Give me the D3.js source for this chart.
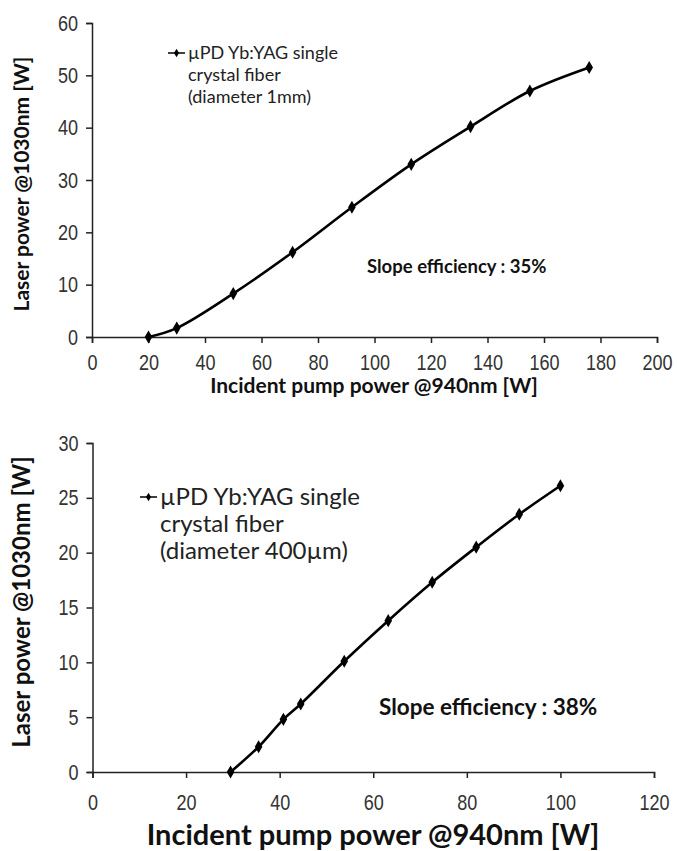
<!DOCTYPE html>
<html>
<head>
<meta charset="utf-8">
<script src="https://cdn.jsdelivr.net/npm/d3@7"></script>
<style>
  body { margin: 0; background: #fff; }
  .tick text { font-family: "Liberation Sans", Arial, sans-serif; fill: #333; }
  .title { font-family: Lato, "Open Sans", sans-serif; font-weight: bold; fill: #111; }
  .legend { font-family: Lato, "Open Sans", sans-serif; fill: #222; }
</style>
</head>
<body>
<div id="chart"></div>
<script>
// Top panel: 1 mm crystal fiber
const pumpTop = [20, 30, 50, 71, 92, 113, 134, 155, 176];
const laserTop = [0, 1.7, 8.3, 16.2, 24.8, 33.0, 40.2, 47.0, 51.5];
const xTicksTop = [0, 20, 40, 60, 80, 100, 120, 140, 160, 180, 200];
const yTicksTop = [0, 10, 20, 30, 40, 50, 60];

// Bottom panel: 400 µm crystal fiber
const pumpBottom = [29.5, 35.5, 40.8, 44.5, 53.8, 63.2, 72.6, 82, 91.2, 100];
const laserBottom = [0, 2.3, 4.8, 6.2, 10.1, 13.8, 17.3, 20.5, 23.5, 26.1];
const xTicksBottom = [0, 20, 40, 60, 80, 100, 120];
const yTicksBottom = [0, 5, 10, 15, 20, 25, 30];

const width = 677, height = 851;
const narrow = 0.82; // squeeze tick labels to look like a narrow face

const svg = d3.select("#chart").append("svg")
    .attr("width", width)
    .attr("height", height);

function drawPanel(opts) {
    const x = d3.scaleLinear().domain(opts.xDomain).range(opts.xRange);
    const y = d3.scaleLinear().domain(opts.yDomain).range(opts.yRange);
    const g = svg.append("g");

    // axes
    g.append("g")
        .attr("transform", `translate(0,${opts.yRange[0]})`)
        .call(d3.axisBottom(x).tickValues(opts.xTicks).tickSize(6).tickPadding(opts.xPad))
        .call(a => a.selectAll("text")
            .style("font-size", opts.tickFont + "px")
            .attr("transform", `scale(${narrow},1)`));
    g.append("g")
        .attr("transform", `translate(${opts.xRange[0]},0)`)
        .call(d3.axisLeft(y).tickValues(opts.yTicks).tickSize(6))
        .call(a => a.selectAll("text")
            .style("font-size", opts.tickFont + "px")
            .attr("x", -14 / narrow)
            .attr("transform", `scale(${narrow},1)`));
    g.selectAll(".domain, .tick line").attr("stroke", "#222").attr("stroke-width", 1.5);

    // data line + markers
    const pts = opts.xs.map((v, i) => [v, opts.ys[i]]);
    const line = d3.line()
        .x(d => x(d[0]))
        .y(d => y(d[1]))
        .curve(d3.curveCatmullRom);
    g.append("path")
        .datum(pts)
        .attr("d", line)
        .attr("fill", "none")
        .attr("stroke", "#000")
        .attr("stroke-width", 2.6);
    g.selectAll(".pt")
        .data(pts)
        .enter().append("path")
        .attr("transform", d => `translate(${x(d[0])},${y(d[1])})`)
        .attr("d", d3.symbol(d3.symbolDiamond, 50))
        .attr("fill", "#000");

    // legend
    const lg = g.append("g").attr("transform", `translate(${opts.legend[0]},${opts.legend[1]})`);
    lg.append("line").attr("x1", 0).attr("x2", 17).attr("y1", 0).attr("y2", 0)
        .attr("stroke", "#000").attr("stroke-width", 1.5);
    lg.append("path").attr("transform", "translate(8.5,0)")
        .attr("d", d3.symbol(d3.symbolDiamond, 22)).attr("fill", "#000");
    opts.legendLines.forEach((t, i) => {
        lg.append("text")
            .attr("class", "legend")
            .attr("x", 20)
            .attr("y", i * opts.legendStep)
            .attr("dy", "0.35em")
            .style("font-size", opts.legendFont + "px")
            .text(t);
    });

    // slope annotation
    g.append("text")
        .attr("class", "title")
        .attr("x", opts.slope[0])
        .attr("y", opts.slope[1])
        .attr("dy", "0.35em")
        .style("font-size", opts.slopeFont + "px")
        .text(opts.slopeText);

    // axis titles
    g.append("text")
        .attr("class", "title")
        .attr("x", opts.xTitle[0])
        .attr("y", opts.xTitle[1])
        .attr("text-anchor", "middle")
        .attr("dy", "0.35em")
        .style("font-size", opts.xTitleFont + "px")
        .text("Incident pump power @940nm [W]");
    g.append("text")
        .attr("class", "title")
        .attr("transform", `translate(${opts.yTitle[0]},${opts.yTitle[1]}) rotate(-90)`)
        .attr("text-anchor", "middle")
        .attr("dy", "0.35em")
        .style("font-size", opts.yTitleFont + "px")
        .text("Laser power @1030nm [W]");
}

drawPanel({
    xs: pumpTop, ys: laserTop,
    xDomain: [0, 200], xRange: [92, 657],
    yDomain: [0, 60], yRange: [337, 23],
    xTicks: xTicksTop, yTicks: yTicksTop,
    tickFont: 22, xPad: 11,
    legend: [168, 53], legendStep: 22, legendFont: 18,
    legendLines: ["\u00b5PD Yb:YAG single", "crystal fiber", "(diameter 1mm)"],
    slope: [367, 267], slopeFont: 18.5, slopeText: "Slope efficiency : 35%",
    xTitle: [374, 386], xTitleFont: 21,
    yTitle: [22, 184], yTitleFont: 21
});

drawPanel({
    xs: pumpBottom, ys: laserBottom,
    xDomain: [0, 120], xRange: [92.5, 654],
    yDomain: [0, 30], yRange: [772, 443],
    xTicks: xTicksBottom, yTicks: yTicksBottom,
    tickFont: 22, xPad: 16,
    legend: [140, 497], legendStep: 27, legendFont: 24,
    legendLines: ["\u00b5PD Yb:YAG single", "crystal fiber", "(diameter 400\u00b5m)"],
    slope: [379, 707], slopeFont: 22.5, slopeText: "Slope efficiency : 38%",
    xTitle: [373, 835], xTitleFont: 29,
    yTitle: [22, 602], yTitleFont: 24
});
</script>
</body>
</html>
